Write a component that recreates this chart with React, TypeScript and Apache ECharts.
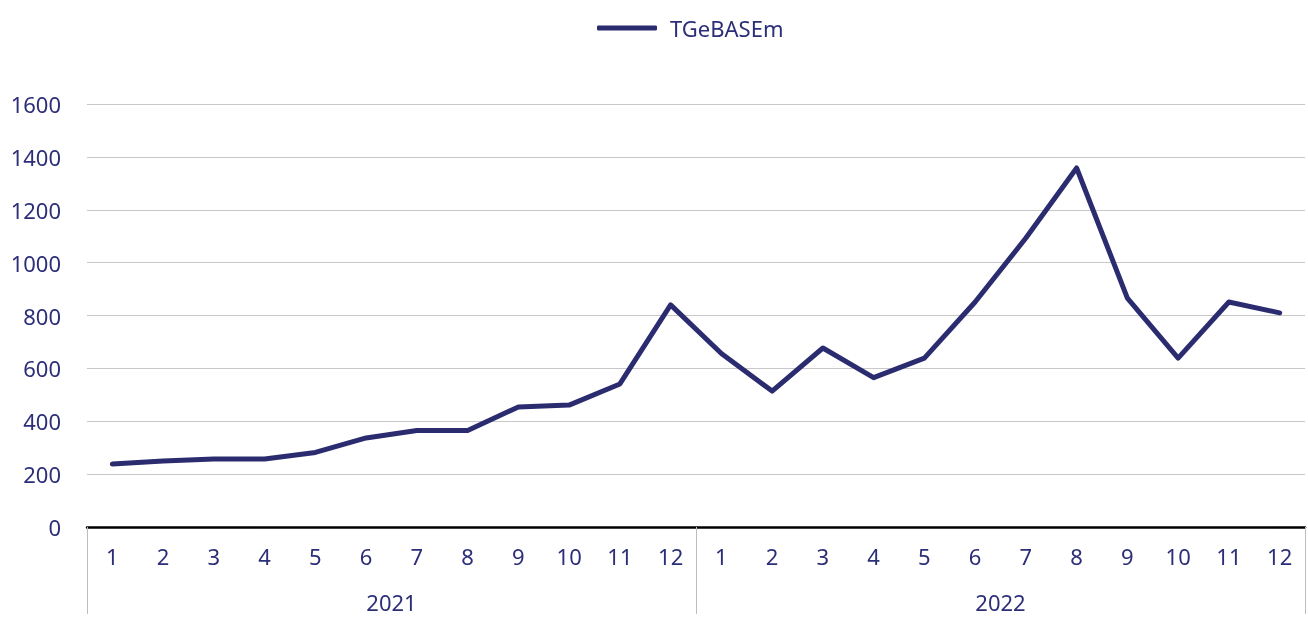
import React, { useEffect, useRef } from "react";
import * as echarts from "echarts";

const months = ["1", "2", "3", "4", "5", "6", "7", "8", "9", "10", "11", "12", "1", "2", "3", "4", "5", "6", "7", "8", "9", "10", "11", "12"];
const years = ["2021", "2022"];
const seriesName = "TGeBASEm";
const values = [238, 250, 257, 257, 282, 337, 365, 365, 454, 461, 541, 840, 656, 514, 677, 565, 639, 851, 1093, 1358, 866, 639, 851, 810];

const TEXT = "#2c2e78";
const LINE = "#2b2c70";
const FONT = "'Noto Sans', sans-serif";
const FS = 22;

export default function App() {
  const ref = useRef<HTMLDivElement>(null);
  useEffect(() => {
    const chart = echarts.init(ref.current!, null, { renderer: "svg" });
    chart.setOption({
      animation: false,
      textStyle: { fontFamily: FONT },
      legend: {
        top: 12,
        left: 592,
        icon: "roundRect",
        itemWidth: 60,
        itemHeight: 5,
        itemStyle: { color: LINE },
        textStyle: { color: TEXT, fontSize: FS, fontFamily: FONT, padding: [0, 0, 0, 8] },
        data: [seriesName],
      },
      grid: { left: 87, right: 3, top: 104, bottom: 90, containLabel: false },
      xAxis: [
        {
          type: "category",
          data: months,
          boundaryGap: true,
          axisLine: { show: true, lineStyle: { color: "#000", width: 2.5 } },
          axisTick: { show: false },
          axisLabel: { color: TEXT, fontSize: FS, fontFamily: FONT, margin: 18, interval: 0 },
          splitLine: { show: false },
        },
        {
          type: "category",
          data: years,
          position: "bottom",
          boundaryGap: true,
          axisLine: { show: false },
          axisTick: { show: true, length: 87, lineStyle: { color: "#bdbdbd", width: 1 } },
          axisLabel: { color: TEXT, fontSize: FS, fontFamily: FONT, margin: 64 },
          splitLine: { show: false },
        },
      ],
      yAxis: {
        type: "value",
        min: 0,
        max: 1600,
        interval: 200,
        axisLine: { show: false },
        axisTick: { show: false },
        axisLabel: { color: TEXT, fontSize: FS, fontFamily: FONT, margin: 26, formatter: (v: number) => String(v) },
        splitLine: { show: true, lineStyle: { color: "#c8c8c8", width: 1 } },
      },
      series: [
        {
          name: seriesName,
          type: "line",
          xAxisIndex: 0,
          data: values,
          symbol: "none",
          lineStyle: { color: LINE, width: 5, cap: "round", join: "round" },
          itemStyle: { color: LINE },
        },
      ],
    });
    return () => chart.dispose();
  }, []);
  return <div ref={ref} style={{ position: "fixed", left: 0, top: 0, width: 1308, height: 617 }} />;
}
